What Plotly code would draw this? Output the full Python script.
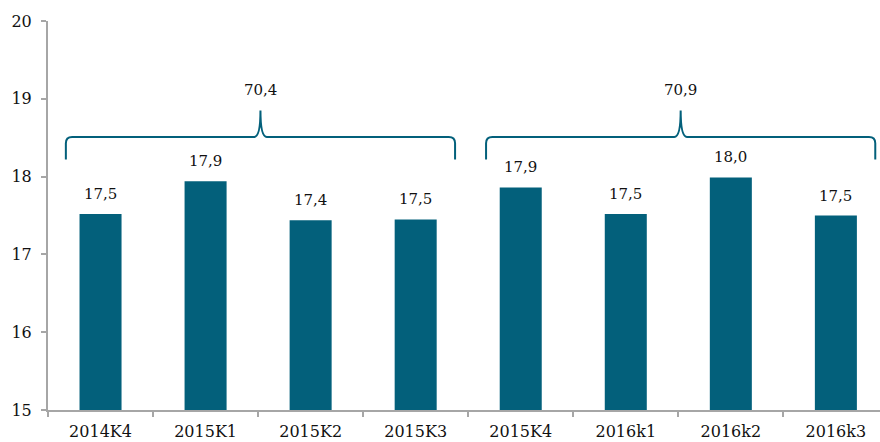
import plotly.graph_objects as go

categories = ["2014K4", "2015K1", "2015K2", "2015K3", "2015K4", "2016k1", "2016k2", "2016k3"]
values = [17.52, 17.94, 17.44, 17.45, 17.86, 17.52, 17.99, 17.50]
value_labels = ["17,5", "17,9", "17,4", "17,5", "17,9", "17,5", "18,0", "17,5"]
group_first = [0, 4]
group_last = [3, 7]
group_totals = ["70,4", "70,9"]

COLOR = "#03607B"
FONT = "DejaVu Serif"
AXIS = "#A6A6A6"

fig = go.Figure()
fig.add_trace(go.Bar(x=categories, y=values, marker=dict(color=COLOR, line=dict(width=0)),
                     width=0.4, showlegend=False, hoverinfo="skip"))

for c, v, t in zip(categories, values, value_labels):
    fig.add_annotation(x=c, y=v, text=t, showarrow=False, yanchor="bottom", yshift=9,
                       font=dict(family=FONT, size=15, color="#111111"))

yb, yf, yp = 18.22, 18.51, 18.85
r = 0.06
for a, b, tot in zip(group_first, group_last, group_totals):
    x0 = a - 0.33
    x1 = b + 0.375
    xm = (x0 + x1) / 2
    path = (f"M {x0},{yb} L {x0},{yf-0.08} Q {x0},{yf} {x0+r},{yf} "
            f"L {xm-r},{yf} Q {xm},{yf} {xm},{yp} "
            f"Q {xm},{yf} {xm+r},{yf} L {x1-r},{yf} "
            f"Q {x1},{yf} {x1},{yf-0.08} L {x1},{yb}")
    fig.add_shape(type="path", path=path, xref="x", yref="y",
                  line=dict(color=COLOR, width=2))
    fig.add_annotation(x=xm, y=yp, text=tot, showarrow=False, yanchor="bottom", yshift=9,
                       font=dict(family=FONT, size=15, color="#111111"))

fig.update_layout(
    width=880, height=442,
    margin=dict(l=48, r=0, t=21, b=32),
    plot_bgcolor="white", paper_bgcolor="white",
    bargap=0.6,
    font=dict(family=FONT, size=16, color="#111111"),
)
fig.update_xaxes(range=[-0.5, 7.42], showline=True, linecolor=AXIS, linewidth=2,
                 ticks="outside", tickson="boundaries", ticklen=5, tickcolor=AXIS, tickwidth=2,
                 showgrid=False, tickfont=dict(family=FONT, size=16), ticklabelstandoff=6,
                 automargin=False)
fig.update_yaxes(range=[15, 20], tickvals=[15, 16, 17, 18, 19, 20], showline=True,
                 linecolor=AXIS, linewidth=2, ticks="outside", ticklen=5, tickcolor=AXIS,
                 tickwidth=2, showgrid=False, zeroline=False, tickfont=dict(family=FONT, size=16),
                 ticklabelstandoff=6, automargin=False)

fig.write_html("out.html", config={"displayModeBar": False},
               post_script="document.body.style.margin='0';document.body.style.overflow='hidden';")
